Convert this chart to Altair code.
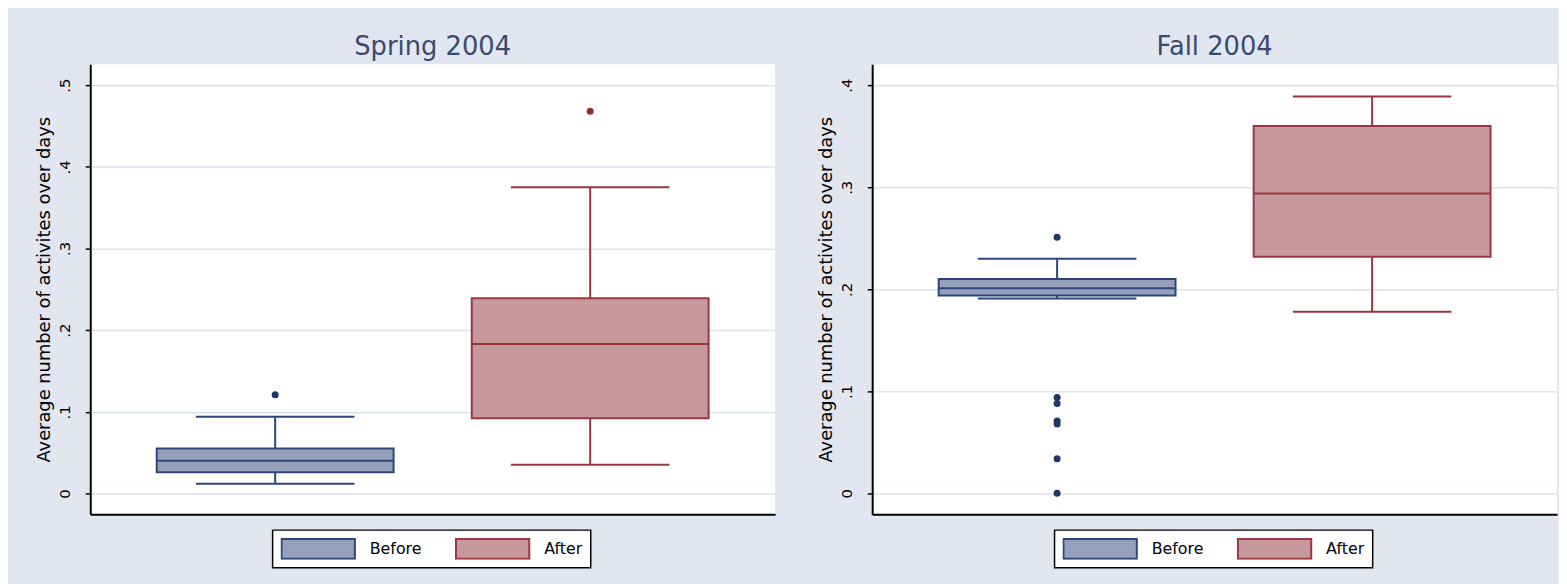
import altair as alt
import pandas as pd

# ---- data ----
panels = ["Spring 2004", "Fall 2004"]
groups = ["Before", "After"]

spring_lower = [0.012, 0.035]
spring_q1 = [0.026, 0.092]
spring_median = [0.040, 0.183]
spring_q3 = [0.055, 0.239]
spring_upper = [0.094, 0.375]
spring_out_before = [0.121]
spring_out_after = [0.468]

fall_lower = [0.191, 0.178]
fall_q1 = [0.194, 0.232]
fall_median = [0.201, 0.294]
fall_q3 = [0.210, 0.360]
fall_upper = [0.230, 0.389]
fall_out_before = [0.251, 0.094, 0.088, 0.071, 0.068, 0.034, 0.000]
fall_out_after = []

spring_ticks = [0, 0.1, 0.2, 0.3, 0.4, 0.5]
fall_ticks = [0, 0.1, 0.2, 0.3, 0.4]
spring_domain = [-0.0255, 0.5255]
fall_domain = [-0.0205, 0.4205]

fill_colors = ["#95A1BA", "#C8999C"]
stroke_colors = ["#2C467A", "#9A3640"]
dot_colors = ["#1E3668", "#8E2E35"]

BG = "#E1E6F0"
FONT = "DejaVu Sans"
PW, PH = 691, 454


def make_panel(title, lower, q1, med, q3, upper, out_b, out_a, ticks, domain):
    box = pd.DataFrame({"group": groups, "lower": lower, "q1": q1,
                        "median": med, "q3": q3, "upper": upper})
    outs = pd.DataFrame({"group": ["Before"] * len(out_b) + ["After"] * len(out_a),
                         "value": list(out_b) + list(out_a)})
    x = alt.X("group:N", sort=groups,
              scale=alt.Scale(domain=groups, paddingInner=0, paddingOuter=0.087),
              axis=alt.Axis(title=None, labels=False, ticks=False, grid=False,
                            domain=True, domainColor="black", domainWidth=2))
    yscale = alt.Scale(domain=domain, nice=False, zero=False)
    yaxis = alt.Axis(title="Average number of activites over days", values=ticks,
                     labelExpr="datum.value == 0 ? '0' : substring(format(datum.value, '.1f'), 1)",
                     labelAngle=270, labelAlign="center", labelBaseline="bottom",
                     labelFont=FONT, labelFontSize=15, labelColor="black", labelPadding=13,
                     tickColor="black", tickSize=5, tickWidth=1.5,
                     domainColor="black", domainWidth=2,
                     grid=True, gridColor="#DCE2EE", gridWidth=1.5,
                     titleFont=FONT, titleFontSize=18, titleFontWeight="normal",
                     titleColor="black", titlePadding=4)
    sscale = alt.Scale(domain=groups, range=stroke_colors)
    fscale = alt.Scale(domain=groups, range=fill_colors)
    stroke_expr = "datum.value == '%s' ? '%s' : '%s'" % (groups[0], stroke_colors[0], stroke_colors[1])
    leg = alt.Legend(title=None, orient="none", legendX=184, legendY=470,
                     direction="horizontal",
                     symbolType="M-1,-0.27L1,-0.27L1,0.27L-1,0.27Z", symbolSize=5476,
                     clipHeight=22,
                     symbolStrokeColor=alt.ExprRef(expr=stroke_expr),
                     symbolStrokeWidth=2, labelFont=FONT, labelFontSize=16,
                     labelColor="black", labelOffset=14, columnPadding=33,
                     padding=8, fillColor="white", strokeColor="black")

    whisk = alt.Chart(box).mark_rule(strokeWidth=2).encode(
        x=x, y=alt.Y("lower:Q", scale=yscale, axis=yaxis), y2="upper:Q",
        color=alt.Color("group:N", scale=sscale, legend=None))
    caps_lo = alt.Chart(box).mark_tick(size=160, thickness=2, opacity=1).encode(
        x=x, y=alt.Y("lower:Q", scale=yscale),
        color=alt.Color("group:N", scale=sscale, legend=None))
    caps_hi = alt.Chart(box).mark_tick(size=160, thickness=2, opacity=1).encode(
        x=x, y=alt.Y("upper:Q", scale=yscale),
        color=alt.Color("group:N", scale=sscale, legend=None))
    bars = alt.Chart(box).mark_bar(size=239, strokeWidth=2, opacity=1).encode(
        x=x, y=alt.Y("q1:Q", scale=yscale), y2="q3:Q",
        fill=alt.Fill("group:N", scale=fscale, legend=leg),
        stroke=alt.Stroke("group:N", scale=sscale, legend=None))
    meds = alt.Chart(box).mark_tick(size=239, thickness=2, opacity=1).encode(
        x=x, y=alt.Y("median:Q", scale=yscale),
        color=alt.Color("group:N", scale=sscale, legend=None))
    dots = alt.Chart(outs).mark_point(size=50, opacity=1, filled=True).encode(
        x=x, y=alt.Y("value:Q", scale=yscale),
        fill=alt.Fill("group:N", scale=alt.Scale(domain=groups, range=dot_colors),
                      legend=None))

    return alt.layer(whisk, caps_lo, caps_hi, bars, meds, dots).resolve_scale(
        fill="independent").properties(
        width=PW, height=PH,
        title=alt.TitleParams(title, font=FONT, fontSize=26, fontWeight="normal",
                              color="#3A4A6E", anchor="middle", frame="group", offset=4))


p1 = make_panel(panels[0], spring_lower, spring_q1, spring_median, spring_q3, spring_upper,
                spring_out_before, spring_out_after, spring_ticks, spring_domain)
p2 = make_panel(panels[1], fall_lower, fall_q1, fall_median, fall_q3, fall_upper,
                fall_out_before, fall_out_after, fall_ticks, fall_domain)

chart = alt.hconcat(p1, p2, spacing=42).resolve_scale(
    fill="independent", stroke="independent", color="independent"
).resolve_legend(fill="independent", stroke="independent").properties(
    background=BG,
    padding={"left": 27, "top": 24, "right": 2, "bottom": 66},
).configure_view(fill="white", stroke=None).configure_legend(strokeWidth=1.5)

chart.save("out.html", embed_options={"renderer": "svg", "actions": False})
